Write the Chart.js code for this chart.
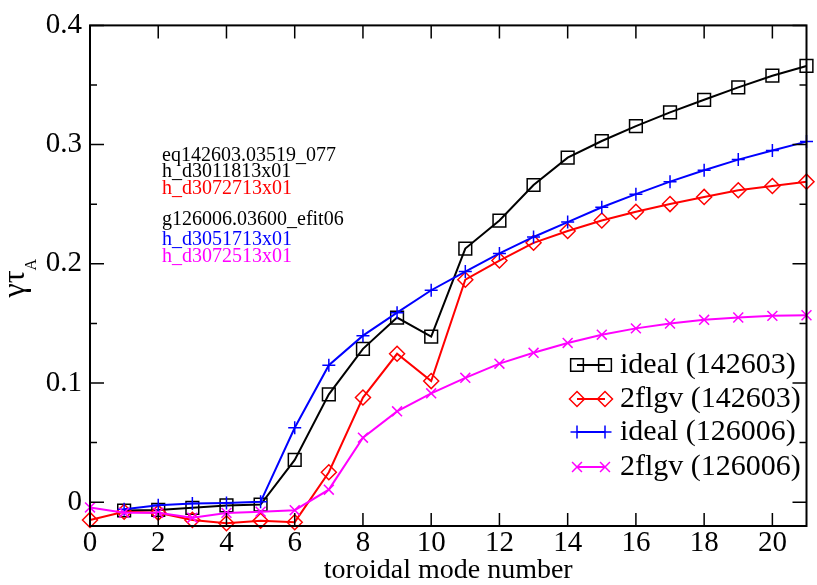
<!DOCTYPE html>
<html lang="en">
<head>
<meta charset="UTF-8" />
<title>Growth rate vs toroidal mode number</title>
<script src="https://cdn.jsdelivr.net/npm/chart.js@4/dist/chart.umd.min.js"></script>
<style>
  html, body { margin: 0; padding: 0; background: #fff; }
  #wrap { width: 817px; height: 585px; }
</style>
</head>
<body>
<div id="wrap"><canvas id="growth" width="817" height="585"></canvas></div>
<script>
  // toroidal mode numbers n = 0..21
  const modeNumbers = [0, 1, 2, 3, 4, 5, 6, 7, 8, 9, 10, 11, 12, 13, 14, 15, 16, 17, 18, 19, 20, 21];

  // growth rate gamma*tau_A (null = not computed)
  const ideal142603 = [null, -0.007, -0.0065, -0.0047, -0.0027, -0.002, 0.0354, 0.0905, 0.1286, 0.1549, 0.1389,
    0.2128, 0.2363, 0.2661, 0.289, 0.303, 0.3155, 0.327, 0.3376, 0.348, 0.3578, 0.366];
  const flgv142603 = [-0.0149, -0.008, -0.0088, -0.0149, -0.0177, -0.0155, -0.0168, 0.0251, 0.0878, 0.1245, 0.1016,
    0.1866, 0.2027, 0.2176, 0.2275, 0.2363, 0.2437, 0.2501, 0.2561, 0.2617, 0.2653, 0.2689];
  const ideal126006 = [null, -0.006, -0.0025, -0.0011, -0.0006, 0.0003, 0.0624, 0.1149, 0.1397, 0.159, 0.1778,
    0.1935, 0.2087, 0.2225, 0.235, 0.2474, 0.2584, 0.2689, 0.2785, 0.2874, 0.295, 0.3025];
  const flgv126006 = [-0.0044, -0.0088, -0.0088, -0.013, -0.009, -0.008, -0.0067, 0.0105, 0.0541, 0.0762, 0.0913,
    0.1043, 0.1162, 0.1253, 0.1336, 0.1405, 0.1458, 0.1499, 0.153, 0.1549, 0.1563, 0.1568];

  const xTicks = [0, 2, 4, 6, 8, 10, 12, 14, 16, 18, 20];
  const yTicks = [0, 0.1, 0.2, 0.3, 0.4];
  const yMinorTicks = [0.05, 0.15, 0.25, 0.35];

  // equilibrium / file names printed on the plot
  const noteLines = [
    { text: 'eq142603.03519_077', color: '#000000' },
    { text: 'h_d3011813x01', color: '#000000' },
    { text: 'h_d3072713x01', color: '#ff0000' },
    { text: 'g126006.03600_efit06', color: '#000000' },
    { text: 'h_d3051713x01', color: '#0000ff' },
    { text: 'h_d3072513x01', color: '#ff00ff' }
  ];
  const noteY = [156, 172, 189, 220, 240, 257];

  const serif = "'Liberation Serif', 'Times New Roman', serif";
  Chart.defaults.font.family = serif;
  Chart.defaults.color = '#000';

  function toPoints(values) {
    return modeNumbers
      .map((n, i) => ({ x: n, y: values[i] }))
      .filter(p => p.y !== null);
  }

  function series(label, values, color, style, radius, order) {
    return {
      label: label,
      data: toPoints(values),
      borderColor: color,
      backgroundColor: 'rgba(0,0,0,0)',
      borderWidth: 2,
      pointStyle: style,
      pointRadius: radius,
      pointHoverRadius: radius,
      pointBorderColor: color,
      pointBackgroundColor: 'rgba(0,0,0,0)',
      pointBorderWidth: 1.5,
      tension: 0,
      clip: false,
      order: order
    };
  }

  // frame with inward ticks, y title, notes and legend
  const decorPlugin = {
    id: 'decor',
    afterDraw(chart) {
      const { ctx, chartArea: a, scales: { x, y } } = chart;
      ctx.save();

      ctx.strokeStyle = '#000';
      ctx.lineWidth = 1.5;
      ctx.beginPath();
      xTicks.forEach(v => {
        const px = x.getPixelForValue(v);
        ctx.moveTo(px, a.bottom); ctx.lineTo(px, a.bottom - 13);
        ctx.moveTo(px, a.top); ctx.lineTo(px, a.top + 13);
      });
      yTicks.forEach(v => {
        const py = y.getPixelForValue(v);
        ctx.moveTo(a.left, py); ctx.lineTo(a.left + 14, py);
        ctx.moveTo(a.right, py); ctx.lineTo(a.right - 14, py);
      });
      yMinorTicks.forEach(v => {
        const py = y.getPixelForValue(v);
        ctx.moveTo(a.left, py); ctx.lineTo(a.left + 7, py);
        ctx.moveTo(a.right, py); ctx.lineTo(a.right - 7, py);
      });
      ctx.stroke();

      ctx.lineWidth = 2;
      ctx.strokeRect(a.left, a.top, a.right - a.left, a.bottom - a.top);

      // y axis title: gamma tau_A
      ctx.save();
      ctx.translate(24, 284);
      ctx.rotate(-Math.PI / 2);
      ctx.fillStyle = '#000';
      ctx.font = '32px ' + serif;
      ctx.textAlign = 'center';
      ctx.textBaseline = 'alphabetic';
      ctx.fillText('γτ', 0, 0);
      const w = ctx.measureText('γτ').width;
      ctx.font = '16px ' + serif;
      ctx.textAlign = 'left';
      ctx.fillText('A', w / 2, 12);
      ctx.restore();

      // notes
      ctx.font = '20px ' + serif;
      ctx.textAlign = 'left';
      ctx.textBaseline = 'middle';
      noteLines.forEach((line, i) => {
        ctx.fillStyle = line.color;
        ctx.fillText(line.text, 162, noteY[i]);
      });

      // legend
      const rows = [365, 399, 432, 467];
      ctx.font = '30px ' + serif;
      chart.data.datasets.forEach((ds, i) => {
        const ry = rows[i];
        ctx.strokeStyle = ds.borderColor;
        ctx.lineWidth = 2;
        ctx.beginPath();
        ctx.moveTo(577, ry);
        ctx.lineTo(605, ry);
        ctx.stroke();
        ctx.lineWidth = 1.5;
        ctx.fillStyle = 'rgba(0,0,0,0)';
        [577, 605].forEach(mx => {
          Chart.helpers.drawPoint(ctx, {
            pointStyle: ds.pointStyle, radius: ds.pointRadius, rotation: 0, borderWidth: 1.5
          }, mx, ry);
        });
        ctx.fillStyle = '#000';
        ctx.fillText(ds.label, 620, ry);
      });

      ctx.restore();
    }
  };

  new Chart(document.getElementById('growth'), {
    type: 'line',
    data: {
      datasets: [
        series('ideal (142603)', ideal142603, '#000000', 'rect', 9, 4),
        series('2flgv (142603)', flgv142603, '#ff0000', 'rectRot', 7.5, 3),
        series('ideal (126006)', ideal126006, '#0000ff', 'cross', 6.5, 2),
        series('2flgv (126006)', flgv126006, '#ff00ff', 'crossRot', 7, 1)
      ]
    },
    options: {
      responsive: false,
      animation: false,
      layout: { padding: { top: 19, right: 2, left: 0, bottom: 0 } },
      plugins: {
        legend: { display: false },
        tooltip: { enabled: false }
      },
      scales: {
        x: {
          type: 'linear',
          min: 0,
          max: 21,
          grid: { display: false, drawTicks: false },
          border: { display: false },
          afterBuildTicks: scale => { scale.ticks = xTicks.map(v => ({ value: v })); },
          afterFit: scale => { scale.height = 59; },
          ticks: { font: { size: 29 }, color: '#000', padding: 0, maxRotation: 0 },
          title: {
            display: true,
            text: 'toroidal mode number',
            font: { size: 28, lineHeight: 1 },
            color: '#000',
            padding: 0
          }
        },
        y: {
          type: 'linear',
          min: -0.02,
          max: 0.4,
          grid: { display: false, drawTicks: false },
          border: { display: false },
          afterBuildTicks: scale => { scale.ticks = yTicks.map(v => ({ value: v })); },
          afterFit: scale => { scale.width = 90; },
          ticks: {
            font: { size: 29 },
            color: '#000',
            padding: 8,
            callback: v => String(+v.toFixed(2))
          }
        }
      }
    },
    plugins: [decorPlugin]
  });
</script>
</body>
</html>
